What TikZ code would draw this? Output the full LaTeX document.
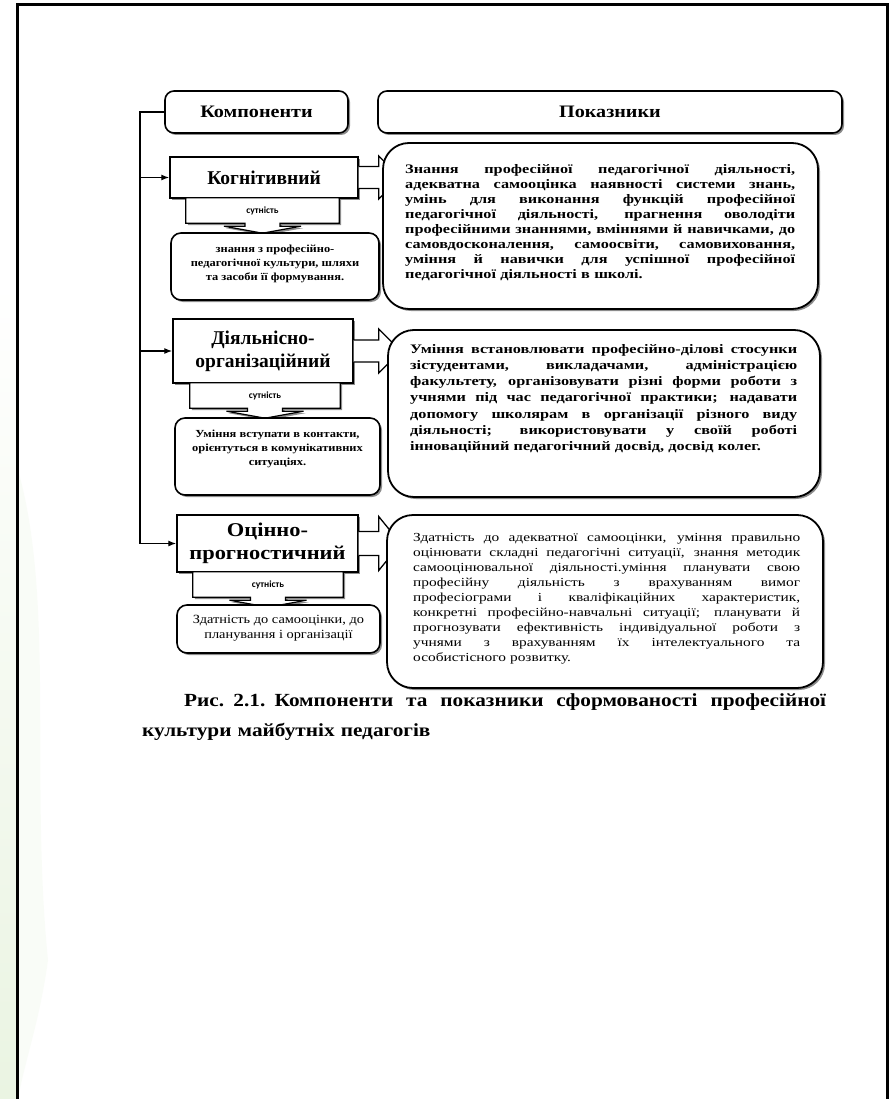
\documentclass[tikz,border=0pt]{standalone}
\usepackage{fontspec}
\setmainfont{Liberation Serif}[FakeStretch=1.15]
\newfontfamily\bodyfont{Liberation Serif}[FakeStretch=1.25]
\newfontfamily\narrowfont{Liberation Serif}[FakeStretch=1.0]
\newfontfamily\sutfont{Carlito}
\usetikzlibrary{shadows,calc,arrows.meta}
\definecolor{wm}{RGB}{234,244,226}
\def\jw{390pt}
\newcommand\jl[1]{\leavevmode\hbox to \jw{\spaceskip=0.3em plus 1fil\relax #1}\\}
\newcommand\barrow[4]{% node, shaft length, shaft half, head half
  \draw[blockarrow] ($(#1.east)+(0,-#3)$) -- ++(#2,0) -- ++(0,-#4+#3) -- ++(22,#4) -- ++(-22,#4) -- ++(0,-#4+#3) -- ++(-#2,0);}
\newcommand\sutarrow[1]{%
  \draw[sutshape] (#1.south west) -- (#1.north west) -- (#1.north east) -- (#1.south east)
   -- ($(#1.south)+(17.5,0)$) -- ++(0,3) -- ++(21,0) -- ($(#1.south)+(0,10)$)
   -- ($(#1.south)+(-38.5,3)$) -- ++(21,0) -- ++(0,-3) -- cycle;}
\tikzset{
  shad/.style={drop shadow={shadow xshift=2pt,shadow yshift=-2pt,fill=black,opacity=0.45}},
  headbox/.style={draw,line width=1.6pt,rounded corners=9pt,fill=white,shad,inner sep=0pt,
    font=\bfseries\fontsize{17.5}{20}\selectfont},
  compbox/.style={draw,line width=1.4pt,fill=white,shad,inner sep=0pt,align=center},
  subbox/.style={draw,line width=1.6pt,rounded corners=10pt,fill=white,shad,inner sep=0pt},
  subtext/.style={align=center,inner sep=0pt},
  bigbox/.style={draw,line width=1.8pt,rounded corners=26pt,fill=white,shad,inner sep=0pt},
  blockarrow/.style={draw,line width=1.3pt,fill=white,line join=miter},
  sutshape/.style={draw,line width=1.2pt,fill=white,shad},
  sutbox/.style={inner sep=0pt,minimum height=25pt},
  suttext/.style={inner sep=0pt,font=\sutfont\bfseries\fontsize{9.5}{11}\selectfont},
  conn/.style={line width=1.3pt},
  tip/.style={-{Latex[length=8pt,width=6pt]}},
  bodytext/.style={anchor=north west,inner sep=0pt,align=left},
}
\begin{document}
\begin{tikzpicture}[x=1pt,y=-1pt]
\useasboundingbox (0,0) rectangle (890,1099);
\fill[white] (0,0) rectangle (890,1099);
% faint watermark on the left
\shade[top color=white,bottom color=wm] (0,280) rectangle (16,1099);
\fill[wm,opacity=0.25] (18,470) .. controls (55,600) and (30,780) .. (48,960) .. controls (40,1020) and (25,1060) .. (18,1099) -- cycle;
% page border
\draw[line width=3pt] (17,1102) -- (17,5) -- (887,5) -- (887,1102);

% headers
\node[headbox,minimum width=183pt,minimum height=42pt] (komp) at (256.5,112) {Компоненти};
\node[headbox,minimum width=464pt,minimum height=42pt] (pokaz) at (610,112) {Показники};

% ---------- row 1
\node[compbox,minimum width=188pt,minimum height=41pt,font=\narrowfont\bfseries\fontsize{19.5}{23}\selectfont] (kog) at (264,177.5) {Когнітивний};
\node[sutbox,minimum width=153pt] (sut1) at (262.5,210.5) {};
\sutarrow{sut1}
\node[suttext] (sut1t) at (sut1) {сутність};
\node[subbox,minimum width=208pt,minimum height=67pt] (sub1) at (275,266.5) {};
\node[subtext,font=\bfseries\fontsize{10.8}{14}\selectfont] (sub1t) at (275,263.5)
  {знання з професійно-\\педагогічної культури, шляхи\\та засоби її формування.};
\barrow{kog}{20}{11}{21.5}
\node[bigbox,minimum width=435pt,minimum height=166pt] (box1) at (600.5,226) {};
\node[bodytext,text width=390pt,font=\bodyfont\bfseries\fontsize{13}{15}\selectfont] (box1t) at (405,164) {%
\def\jw{390pt}%
\jl{Знання професійної педагогічної діяльності,}
\jl{адекватна самооцінка наявності системи знань,}
\jl{умінь для виконання функцій професійної}
\jl{педагогічної діяльності, прагнення оволодіти}
\jl{професійними знаннями, вміннями й навичками, до}
\jl{самовдосконалення, самоосвіти, самовиховання,}
\jl{уміння й навички для успішної професійної}
педагогічної діяльності в школі.};

% ---------- row 2
\node[compbox,minimum width=180pt,minimum height=64pt,font=\narrowfont\bfseries\fontsize{19.5}{23}\selectfont] (dia) at (263,351) {Діяльнісно-\\організаційний};
\node[sutbox,minimum width=150pt] (sut2) at (265,395.5) {};
\sutarrow{sut2}
\node[suttext] (sut2t) at (sut2) {сутність};
\node[subbox,minimum width=205pt,minimum height=77pt] (sub2) at (277.5,456.5) {};
\node[subtext,font=\bfseries\fontsize{10.8}{14}\selectfont] (sub2t) at (277.5,448.5)
  {Уміння вступати в контакти,\\орієнтуться в комунікативних\\ситуаціях.};
\barrow{dia}{25}{11}{22}
\node[bigbox,minimum width=432pt,minimum height=167pt] (box2) at (604,413.5) {};
\node[bodytext,text width=387pt,font=\bodyfont\bfseries\fontsize{13}{16.2}\selectfont] (box2t) at (410,344) {%
\def\jw{387pt}%
\jl{Уміння встановлювати професійно-ділові стосунки}
\jl{зістудентами, викладачами, адміністрацією}
\jl{факультету, організовувати різні форми роботи з}
\jl{учнями під час педагогічної практики; надавати}
\jl{допомогу школярам в організації різного виду}
\jl{діяльності; використовувати у своїй роботі}
інноваційний педагогічний досвід, досвід колег.};

% ---------- row 3
\node[compbox,minimum width=181pt,minimum height=57pt,font=\bfseries\fontsize{19.5}{23}\selectfont] (ots) at (267.5,543.5) {Оцінно-\\прогностичний};
\node[sutbox,minimum width=150pt] (sut3) at (268,584.5) {};
\sutarrow{sut3}
\node[suttext] (sut3t) at (sut3) {сутність};
\node[subbox,minimum width=203pt,minimum height=48pt] (sub3) at (278.5,629) {};
\node[subtext,font=\fontsize{12.5}{15}\selectfont] (sub3t) at (278.5,628.5)
  {Здатність до самооцінки, до\\планування і організації};
\barrow{ots}{20}{12}{27}
\node[bigbox,minimum width=436pt,minimum height=173pt] (box3) at (605,601.5) {};
\node[bodytext,text width=387pt,font=\bodyfont\fontsize{12.3}{15}\selectfont] (box3t) at (413,533) {%
\def\jw{387pt}%
\jl{Здатність до адекватної самооцінки, уміння правильно}
\jl{оцінювати складні педагогічні ситуації, знання методик}
\jl{самооцінювальної діяльності.уміння планувати свою}
\jl{професійну діяльність з врахуванням вимог}
\jl{професіограми і кваліфікаційних характеристик,}
\jl{конкретні професійно-навчальні ситуації; планувати й}
\jl{прогнозувати ефективність індивідуальної роботи з}
\jl{учнями з врахуванням їх інтелектуального та}
особистісного розвитку.};

% ---------- connectors on the left
\coordinate (vtop) at (140,112);
\draw[conn] (komp.west) -- (vtop) -- (vtop |- ots.west);
\draw[conn,tip] (vtop |- kog.west) -- (kog.west);
\draw[conn,tip] (vtop |- dia.west) -- (dia.west);
\draw[conn,tip] (vtop |- ots.west) -- (ots.west);

% ---------- caption
\node[bodytext,text width=684pt,font=\bfseries\fontsize{18.5}{30}\selectfont] (cap) at (142,693) {%
\hspace*{42pt}\hbox to 642pt{\spaceskip=0.3em plus 1fil\relax Рис. 2.1. Компоненти та показники сформованості професійної}\\
культури майбутніх педагогів};
\end{tikzpicture}
\end{document}
